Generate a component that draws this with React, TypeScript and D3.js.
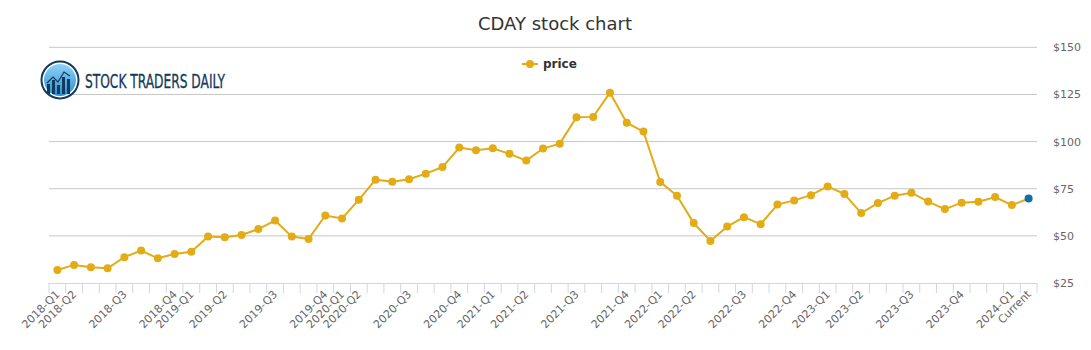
import React from "react";
import * as d3 from "d3";

const categories: string[] = [
  "2018-Q1", "2018-Q2", "", "", "2018-Q3", "", "", "2018-Q4", "2019-Q1", "",
  "2019-Q2", "", "", "2019-Q3", "", "", "2019-Q4", "2020-Q1", "2020-Q2", "",
  "", "2020-Q3", "", "", "2020-Q4", "", "2021-Q1", "", "2021-Q2", "",
  "", "2021-Q3", "", "", "2021-Q4", "", "2022-Q1", "", "2022-Q2", "",
  "", "2022-Q3", "", "", "2022-Q4", "", "2023-Q1", "", "2023-Q2", "",
  "", "2023-Q3", "", "", "2023-Q4", "", "", "2024-Q1", "Current",
];

const prices: number[] = [
  31.9, 34.6, 33.4, 32.8, 38.7, 42.2, 38.1, 40.4, 41.6, 49.6,
  49.3, 50.5, 53.6, 58.1, 49.6, 48.4, 60.8, 59.2, 69.1, 79.8,
  78.7, 80.0, 83.0, 86.5, 96.8, 95.4, 96.4, 93.5, 89.9, 96.3,
  98.9, 112.9, 113.1, 125.9, 110.0, 105.3, 78.6, 71.3, 56.8, 47.3,
  54.9, 59.9, 56.2, 66.6, 68.8, 71.6, 76.2, 72.2, 62.1, 67.4,
  71.3, 72.9, 68.2, 64.2, 67.6, 68.1, 70.6, 66.3, 69.8,
];

const yTicks: number[] = [25, 50, 75, 100, 125, 150];

const W = 1091;
const H = 350;
const left = 49;
const right = 1037;
const top = 47.3;
const bottom = 283;
const font = "'DejaVu Sans', Arial, sans-serif";
const gold = "#e3ab15";

export default function App() {
  const idx = d3.range(categories.length);
  const x = d3.scaleBand<number>().domain(idx).range([left, right]).padding(0);
  const y = d3.scaleLinear().domain([25, 150]).range([bottom, top]);
  const cx = (i: number) => (x(i) as number) + x.bandwidth() / 2;
  const line = d3
    .line<number>()
    .x((_, i) => cx(i))
    .y((d) => y(d));

  const tickXs = [...idx.map((i) => x(i) as number), right];

  return (
    <svg
      width={W}
      height={H}
      style={{ position: "absolute", left: 0, top: 0, background: "#fff" }}
      fontFamily={font}
    >
      <rect x={0} y={0} width={W} height={H} fill="#fff" />
      <text x={555} y={30} textAnchor="middle" fontSize={18} fill="#333">
        CDAY stock chart
      </text>

      {yTicks.map((t) => (
        <g key={t}>
          {t !== 25 && (
            <line x1={left} x2={right} y1={y(t)} y2={y(t)} stroke="#c6c6c6" strokeWidth={1} />
          )}
          <text x={1053} y={y(t) + 4} fontSize={11} fill="#666">
            ${t}
          </text>
        </g>
      ))}

      {/* x axis */}
      <line x1={left} x2={right} y1={bottom + 0.5} y2={bottom + 0.5} stroke="#ccd6eb" />
      {tickXs.map((tx, i) => (
        <line key={i} x1={tx} x2={tx} y1={bottom} y2={bottom + 10} stroke="#ccd6eb" />
      ))}
      {categories.map((c, i) =>
        c ? (
          <text
            key={i}
            transform={`translate(${cx(i) + 3},${bottom + 12}) rotate(-45)`}
            textAnchor="end"
            fontSize={11}
            fill="#666"
          >
            {c}
          </text>
        ) : null
      )}

      {/* legend */}
      <line x1={522} x2={538} y1={64} y2={64} stroke={gold} strokeWidth={2} />
      <circle cx={530} cy={64} r={4} fill={gold} />
      <text x={543} y={68} fontSize={12} fontWeight="bold" fill="#333">
        price
      </text>

      {/* logo */}
      <defs>
        <linearGradient id="lg" x1="0" y1="0" x2="0" y2="1">
          <stop offset="0" stopColor="#8fd3f7" />
          <stop offset="1" stopColor="#2a8fd0" />
        </linearGradient>
      </defs>
      <circle cx={60} cy={80} r={18.5} fill="#fff" stroke="#123a5c" strokeWidth={2} />
      <circle cx={60} cy={80} r={16} fill="url(#lg)" />
      <g fill="#123a5c">
        <rect x={47} y={84} width={3} height={10} />
        <rect x={52} y={80} width={3} height={14} />
        <rect x={57} y={85} width={3} height={9} />
        <rect x={62} y={77} width={3} height={17} />
        <rect x={67} y={79} width={3} height={15} />
      </g>
      <polyline
        points="47,83 53,77 58,82 64,72 70,76"
        fill="none"
        stroke="#123a5c"
        strokeWidth={1.2}
      />
      <text
        x={85}
        y={88.3}
        fontSize={19}
        fontFamily="'Liberation Sans Narrow', 'DejaVu Sans Condensed', sans-serif"
        fill="#123a5c"
        stroke="#123a5c"
        strokeWidth={0.3}
        textLength={140}
        lengthAdjust="spacingAndGlyphs"
      >
        STOCK TRADERS DAILY
      </text>

      {/* series */}
      <path d={line(prices) || ""} fill="none" stroke={gold} strokeWidth={2} />
      {prices.map((p, i) => (
        <circle
          key={i}
          cx={cx(i)}
          cy={y(p)}
          r={4}
          fill={i === prices.length - 1 ? "#0f6fa8" : gold}
        />
      ))}
    </svg>
  );
}
